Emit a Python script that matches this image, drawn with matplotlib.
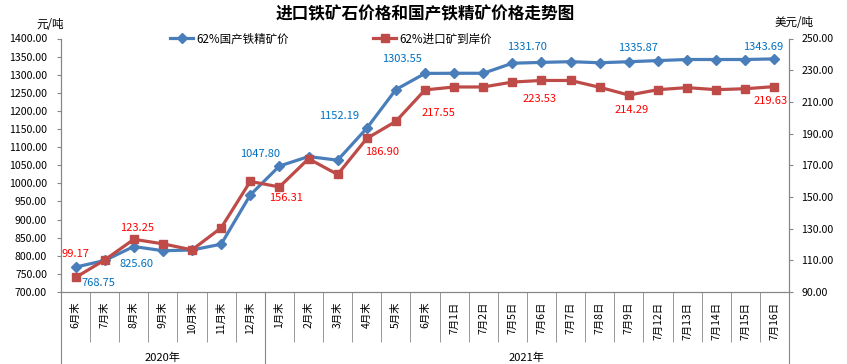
import matplotlib
matplotlib.use('Agg')
import matplotlib.pyplot as plt
import matplotlib.transforms as mtransforms
from matplotlib.lines import Line2D

plt.rcParams['font.family'] = ['Noto Sans CJK SC', 'DejaVu Sans']

cats = ['6月末', '7月末', '8月末', '9月末', '10月末', '11月末', '12月末',
        '1月末', '2月末', '3月末', '4月末', '5月末', '6月末',
        '7月1日', '7月2日', '7月5日', '7月6日', '7月7日', '7月8日', '7月9日',
        '7月12日', '7月13日', '7月14日', '7月15日', '7月16日']
groups = ['2020年', '2021年']
group_sizes = [7, 18]

domestic = [768.75, 787, 825.60, 814, 816, 832, 968,
            1047.80, 1074, 1064, 1152.19, 1259, 1303.55,
            1304, 1304, 1331.70, 1334, 1336, 1333, 1335.87,
            1339, 1342, 1342, 1342, 1343.69]
imported = [99.17, 110.2, 123.25, 120.4, 116.6, 130.5, 159.8,
            156.31, 174.1, 164.2, 186.90, 197.7, 217.55,
            219.4, 219.4, 222.5, 223.53, 223.5, 219.2, 214.29,
            217.7, 219.0, 217.7, 218.3, 219.63]

# which points get a value label, and where (pixel offsets)
dom_labels = {0: (23, -16), 2: (3, -17), 7: (-19, 12), 10: (-28, 12),
              12: (-23, 14), 15: (15, 16), 19: (9, 14), 24: (-11, 12)}
imp_labels = {0: (0, 23), 2: (3, 11), 7: (7, -11), 10: (15, -14),
              12: (13, -23), 16: (-2, -19), 19: (3, -15), 24: (-4, -14)}

blue = '#4A7EBB'
red = '#BE4B48'
grey = '#868686'

fig = plt.figure(figsize=(8.47, 3.64), dpi=100)
ax = fig.add_axes([61/847, 1 - 292/364, (789-61)/847, (292-38.5)/364])
ax2 = ax.twinx()

x = list(range(len(cats)))
ax.plot(x, domestic, color=blue, lw=2.3, marker='D', ms=5, zorder=3)
ax2.plot(x, imported, color=red, lw=2.3, marker='s', ms=6, zorder=3)

ax.set_xlim(-0.5, len(cats) - 0.5)
ax.set_ylim(700, 1400)
ax.set_yticks(range(700, 1401, 50))
ax.set_yticklabels(['%.2f' % v for v in range(700, 1401, 50)])
ax2.set_ylim(90, 250)
ax2.set_yticks(range(90, 251, 20))
ax2.set_yticklabels(['%.2f' % v for v in range(90, 251, 20)])

for a in (ax, ax2):
    a.spines['top'].set_visible(False)
    for s in ('left', 'right', 'bottom'):
        a.spines[s].set_color(grey)
ax.tick_params(axis='y', direction='out', length=3, color=grey, pad=7, labelsize=7.6)
ax2.tick_params(axis='y', direction='out', length=3, color=grey, pad=6, labelsize=7.6)

# category labels and separators
ax.set_xticks(x)
ax.set_xticklabels(cats, rotation=90, va='top', ha='center', fontsize=7.5)
ax.tick_params(axis='x', which='major', length=0, pad=7)
ax.set_xticks([i - 0.5 for i in range(1, len(cats))], minor=True)
ax.tick_params(axis='x', which='minor', length=36, color=grey, direction='out')

trans = mtransforms.blended_transform_factory(ax.transData, ax.transAxes)
bottom = -72 / 253.5
start = -0.5
for g, n in zip(groups, group_sizes):
    end = start + n
    ax.plot([start, start], [0, bottom], color=grey, lw=0.8, transform=trans, clip_on=False)
    ax.text((start + end) / 2, -66 / 253.5, g, transform=trans, ha='center', va='center', fontsize=8)
    start = end
ax.plot([start, start], [0, bottom], color=grey, lw=0.8, transform=trans, clip_on=False)

# value labels
for i, (dx, dy) in dom_labels.items():
    ax.annotate('%.2f' % domestic[i], (i, domestic[i]), xytext=(dx, dy),
                textcoords='offset pixels', ha='center', va='center',
                color='#0070C0', fontsize=8)
for i, (dx, dy) in imp_labels.items():
    ax2.annotate('%.2f' % imported[i], (i, imported[i]), xytext=(dx, dy),
                 textcoords='offset pixels', ha='center', va='center',
                 color='#FF0000', fontsize=8)

fig.text(425/847, 1 - 14/364, '进口铁矿石价格和国产铁精矿价格走势图',
         ha='center', va='center', fontsize=12, fontweight='bold')
fig.text(50/847, 1 - 25/364, '元/吨', ha='center', va='center', fontsize=8.3)
fig.text(794/847, 1 - 22/364, '美元/吨', ha='center', va='center', fontsize=8.3)

handles = [Line2D([], [], color=blue, lw=2.3, marker='D', ms=5),
           Line2D([], [], color=red, lw=2.3, marker='s', ms=6)]
fig.legend(handles, ['62%国产铁精矿价', '62%进口矿到岸价'], ncol=2,
           loc='center left', bbox_to_anchor=(170/847, 1 - 39/364),
           frameon=False, fontsize=8.3, handlelength=2.0, handletextpad=0.3,
           columnspacing=7.3, borderpad=0, borderaxespad=0)

fig.savefig('out.png', dpi=100)
